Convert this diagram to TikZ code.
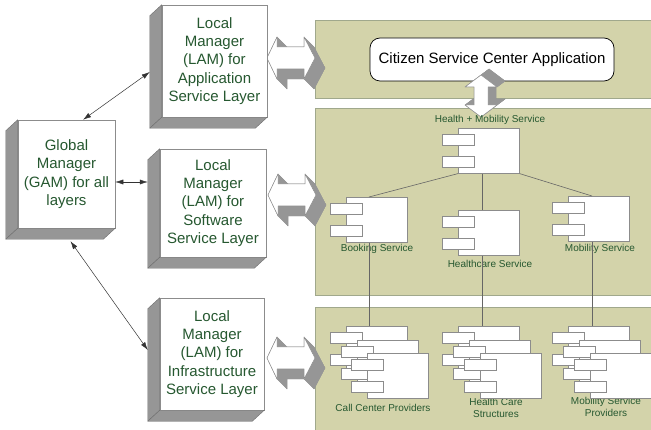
\documentclass[tikz,border=0pt]{standalone}
\usepackage{fontspec}
\setmainfont{Liberation Sans}
\usetikzlibrary{calc,arrows.meta}
\definecolor{olivepanel}{RGB}{211,211,170}
\definecolor{panelline}{RGB}{160,168,140}
\definecolor{txtgreen}{RGB}{38,88,48}
\definecolor{sidegray}{RGB}{150,150,150}
\definecolor{sideline}{RGB}{110,110,110}
\definecolor{boxline}{RGB}{140,140,140}
\tikzset{
 panel/.style={fill=olivepanel, draw=panelline, line width=0.6pt, anchor=north west, inner sep=0pt},
 mgr/.style={draw=boxline, fill=white, line width=0.5pt, align=center, text=txtgreen, font=\fontsize{15}{18.3}\selectfont, inner sep=0pt},
 sideface/.style={fill=sidegray, draw=sideline, line width=0.4pt, line join=round},
 conn/.style={draw=black!80, line width=0.5pt, {Latex[length=8pt,width=5pt]}-{Latex[length=8pt,width=5pt]}},
 comp/.style={draw=boxline, fill=white, line width=0.6pt, inner sep=0pt, minimum width=61pt, minimum height=45pt, anchor=north west},
 port/.style={draw=boxline, fill=white, line width=0.6pt, inner sep=0pt, minimum width=32pt, minimum height=11pt, anchor=north west},
 lbl/.style={text=txtgreen, font=\fontsize{10}{12}\selectfont, inner sep=0pt, align=center},
 wire/.style={draw=black!60, line width=0.6pt},
 arrface/.style={fill=white, draw=boxline, line width=0.5pt, line join=round},
 arrside/.style={fill=sidegray, draw=sidegray, line width=0.3pt, line join=round},
}
\newcommand{\compo}[3]{%
  \node[comp] (#1) at (#2,#3) {};
  \node[port] (#1pa) at (#2-16,#3+6) {};
  \node[port] (#1pb) at (#2-16,#3+28) {};
}
\newcommand{\mgrbox}[5]{%
  \node[mgr, minimum width=#3, minimum height=#4] (#1) at #2 {#5};
  \path[sideface] (#1.north west) -- (#1.south west) -- ($(#1.south west)+(-12,11)$) -- ($(#1.north west)+(-12,11)$) -- cycle;
  \path[sideface] (#1.south west) -- (#1.south east) -- ($(#1.south east)+(-12,11)$) -- ($(#1.south west)+(-12,11)$) -- cycle;
}
\newcommand{\harrow}[1]{%
 \begin{scope}[shift={#1}]
  \path[arrside, shift={(10,10)}] (-24,0) -- (-14,-21) -- (-14,-11) -- (13,-11) -- (13,-21) -- (24,0) -- (13,21) -- (13,11) -- (-14,11) -- (-14,21) -- cycle;
  \foreach \ax/\ay/\bx/\by in {-24/0/-14/-21,-14/-21/-14/-11,-14/-11/13/-11,13/-11/13/-21,13/-21/24/0,24/0/13/21,13/21/13/11,13/11/-14/11,-14/11/-14/21,-14/21/-24/0}
   \path[arrside] (\ax,\ay) -- (\bx,\by) -- (\bx+10,\by+10) -- (\ax+10,\ay+10) -- cycle;
  \path[arrface] (-24,0) -- (-14,-21) -- (-14,-11) -- (13,-11) -- (13,-21) -- (24,0) -- (13,21) -- (13,11) -- (-14,11) -- (-14,21) -- cycle;
 \end{scope}}
\newcommand{\varrow}[1]{%
 \begin{scope}[shift={#1}]
  \path[arrside, shift={(8,-6)}] (0,-21) -- (16,-9) -- (7,-9) -- (7,9) -- (16,9) -- (0,21) -- (-16,9) -- (-7,9) -- (-7,-9) -- (-16,-9) -- cycle;
  \foreach \ax/\ay/\bx/\by in {0/-21/16/-9,16/-9/7/-9,7/-9/7/9,7/9/16/9,16/9/0/21,0/21/-16/9,-16/9/-7/9,-7/9/-7/-9,-7/-9/-16/-9,-16/-9/0/-21}
   \path[arrside] (\ax,\ay) -- (\bx,\by) -- (\bx+8,\by-6) -- (\ax+8,\ay-6) -- cycle;
  \path[arrface] (0,-21) -- (16,-9) -- (7,-9) -- (7,9) -- (16,9) -- (0,21) -- (-16,9) -- (-7,9) -- (-7,-9) -- (-16,-9) -- cycle;
 \end{scope}}
\begin{document}
\begin{tikzpicture}[x=1pt,y=-1pt]
\useasboundingbox (0,0) rectangle (651,430);
\clip (0,0) rectangle (651,430);
\fill[white] (0,0) rectangle (651,430);
% layer panels
\node[panel, minimum width=345pt, minimum height=78pt] (appl) at (315,20) {};
\node[panel, minimum width=345pt, minimum height=187pt] (soft) at (315,108) {};
\node[panel, minimum width=345pt, minimum height=130pt] (infra) at (315,307) {};
% block arrows between managers and layers
\harrow{(291,58)}
\harrow{(292,195)}
\harrow{(291,358)}
% application
\node[draw=black, fill=white, rounded corners=10pt, minimum width=244pt, minimum height=43pt, line width=0.7pt, inner sep=0pt, font=\fontsize{15}{18}\selectfont] (csc) at (492,59.5) {Citizen Service Center Application};
\varrow{(481,96)}
% components
\node[lbl] (hmL) at (490,120) {Health + Mobility Service};
\node[lbl] (bkL) at (377,249) {Booking Service};
\node[lbl] (hsL) at (490,264) {Healthcare Service};
\node[lbl] (msL) at (600,249) {Mobility Service};
\node[lbl] (ccL) at (383,408) {Call Center Providers};
\node[lbl] (hcL) at (496,408) {Health Care\\Structures};
\node[lbl] (mpL) at (606,407) {Mobility Service\\Providers};
\compo{hm}{458}{128}
\compo{bk}{346}{197}
\compo{hs}{458}{210}
\compo{ms}{568}{196}
\draw[wire] (hm.south west) -- ([xshift=23pt]bk.north west);
\draw[wire] ([xshift=24pt]hm.south west) -- ([xshift=24pt]hs.north west);
\draw[wire] (hm.south east) -- ([xshift=24pt]ms.north west);
\compo{cca}{346}{326}
\compo{ccb}{357}{340}
\compo{ccc}{367}{353}
\compo{hca}{458}{326}
\compo{hcb}{469}{340}
\compo{hcc}{480}{353}
\compo{mpa}{568}{326}
\compo{mpb}{579}{340}
\compo{mpc}{590}{353}
\draw[wire] ([xshift=23pt]bk.south west) -- ([xshift=23pt]cca.north west);
\draw[wire] ([xshift=24pt]hs.south west) -- ([xshift=24pt]hca.north west);
\draw[wire] ([xshift=24pt]ms.south west) -- ([xshift=24pt]mpa.north west);
% managers
\mgrbox{gam}{(66.5,174)}{97pt}{108pt}{Global\\Manager\\(GAM) for all\\layers}
\mgrbox{lama}{(214.5,61)}{105pt}{112pt}{Local\\Manager\\(LAM) for\\Application\\Service Layer}
\mgrbox{lamb}{(213,203)}{106pt}{108pt}{Local\\Manager\\(LAM) for\\Software\\Service Layer}
\mgrbox{lamc}{(212,354)}{104pt}{112pt}{Local\\Manager\\(LAM) for\\Infrastructure\\Service Layer}
\coordinate (lamaback) at ($(lama.west)+(-12,11)$);
\coordinate (lambback) at ($(lamb.west)+(-12,11)$);
\draw[conn] (gam.73) -- (lamaback);
\draw[conn] ([yshift=-8pt]gam.east) -- ([yshift=-8pt]gam.east -| lambback);
\draw[conn] ($(gam.south)+(4,13)$) -- ($(lamc.west)+(-12,-4)$);
\end{tikzpicture}
\end{document}
